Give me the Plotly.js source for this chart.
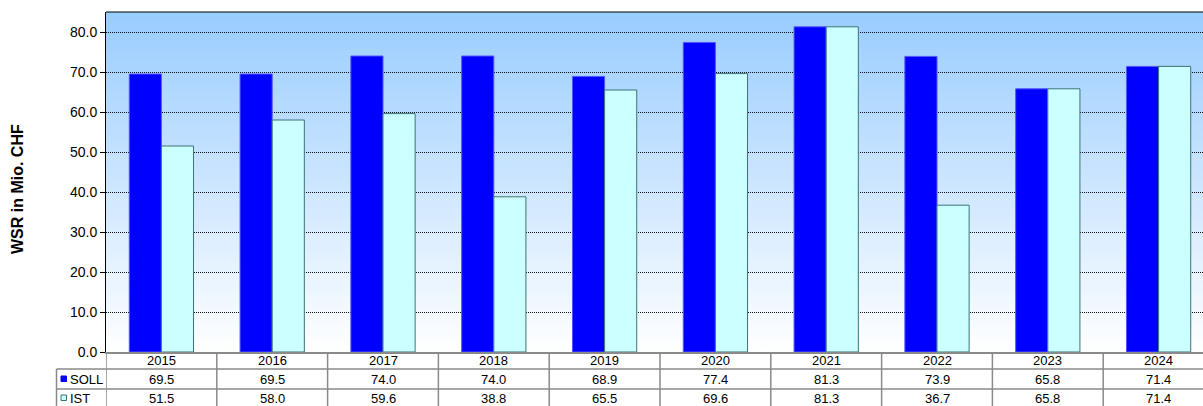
<!DOCTYPE html>
<html>
<head>
<meta charset="utf-8">
<script src="https://cdn.plot.ly/plotly-3.0.1.min.js"></script>
<style>
html,body{margin:0;padding:0;overflow:hidden;background:#fff;}
#chart{width:1215px;height:406px;}
</style>
</head>
<body>
<div id="chart"></div>
<script>
const years = ['2015','2016','2017','2018','2019','2020','2021','2022','2023','2024'];
const soll = [69.5, 69.5, 74.0, 74.0, 68.9, 77.4, 81.3, 73.9, 65.8, 71.4];
const ist  = [51.5, 58.0, 59.6, 38.8, 65.5, 69.6, 81.3, 36.7, 65.8, 71.4];
const seriesNames = ['SOLL', 'IST'];
const yTitle = 'WSR in Mio. CHF';

const W = 1215, H = 406;
const M = {l: 106, r: 1, t: 12, b: 54};
const PW = W - M.l - M.r, PH = H - M.t - M.b;
const px = v => (v - M.l) / PW;
const py = v => (M.t + PH - v) / PH;

const FONT = '"Liberation Sans", Arial, sans-serif';
const GRID = '#8a8a8a';

const gradSvg = '<svg xmlns="http://www.w3.org/2000/svg" width="10" height="100" preserveAspectRatio="none">' +
  '<defs><linearGradient id="g" x1="0" y1="0" x2="0" y2="1">' +
  '<stop offset="0" stop-color="#99CCFF"/><stop offset="1" stop-color="#FFFFFF"/>' +
  '</linearGradient></defs><rect width="10" height="100" fill="url(#g)"/></svg>';
const gradUrl = 'data:image/svg+xml;charset=utf-8,' + encodeURIComponent(gradSvg);

const traces = [
  {type: 'bar', name: seriesNames[0], x: years, y: soll,
   marker: {color: '#0000FF', line: {color: '#5555FF', width: 1}}, hoverinfo: 'x+y'},
  {type: 'bar', name: seriesNames[1], x: years, y: ist,
   marker: {color: '#CCFFFF', line: {color: '#3A7575', width: 1}}, hoverinfo: 'x+y'}
];

const shapes = [];
const annotations = [];
const yBottom = -0.25;
// top border of plot
shapes.push({type: 'line', xref: 'paper', yref: 'paper', x0: 0, x1: 1, y0: 1, y1: 1,
  line: {color: '#000', width: 1}});
// vertical table lines
for (let i = 0; i < years.length; i++) {
  shapes.push({type: 'line', xref: 'x', yref: 'paper', x0: i - 0.5, x1: i - 0.5, y0: 0, y1: yBottom,
    line: {color: GRID, width: 1.5}});
}
// left column vertical
shapes.push({type: 'line', xref: 'paper', yref: 'paper', x0: px(56.5), x1: px(56.5), y0: py(369), y1: yBottom,
  line: {color: GRID, width: 1.5}});
// horizontal table lines
[369, 389].forEach(yy => {
  shapes.push({type: 'line', xref: 'paper', yref: 'paper', x0: px(56.5), x1: 1.05, y0: py(yy), y1: py(yy),
    line: {color: GRID, width: 1.5}});
});
// legend keys
shapes.push({type: 'rect', xref: 'paper', yref: 'paper', x0: px(61), x1: px(66.5), y0: py(381.5), y1: py(376),
  fillcolor: '#0000FF', line: {color: '#0000FF', width: 1}});
shapes.push({type: 'rect', xref: 'paper', yref: 'paper', x0: px(61), x1: px(66.5), y0: py(400.5), y1: py(395),
  fillcolor: '#CCFFFF', line: {color: '#3A7575', width: 1}});

const rowY = [py(361), py(379), py(398.5)];
const TS = 13;
years.forEach((yr, i) => {
  annotations.push({xref: 'x', yref: 'paper', x: i, y: rowY[0], text: yr, showarrow: false,
    xanchor: 'center', yanchor: 'middle', font: {family: FONT, size: TS, color: '#000'}});
  annotations.push({xref: 'x', yref: 'paper', x: i, y: rowY[1], text: soll[i].toFixed(1), showarrow: false,
    xanchor: 'center', yanchor: 'middle', font: {family: FONT, size: TS, color: '#000'}});
  annotations.push({xref: 'x', yref: 'paper', x: i, y: rowY[2], text: ist[i].toFixed(1), showarrow: false,
    xanchor: 'center', yanchor: 'middle', font: {family: FONT, size: TS, color: '#000'}});
});
seriesNames.forEach((n, k) => {
  annotations.push({xref: 'paper', yref: 'paper', x: px(67.5), y: rowY[k + 1], text: n, showarrow: false,
    xanchor: 'left', yanchor: 'middle', font: {family: FONT, size: TS, color: '#000'}});
});
annotations.push({xref: 'paper', yref: 'paper', x: px(18), y: py(189), text: '<b>' + yTitle + '</b>',
  textangle: -90, showarrow: false, xanchor: 'center', yanchor: 'middle',
  font: {family: FONT, size: 16, color: '#000'}});

const layout = {
  width: W, height: H,
  margin: M,
  paper_bgcolor: '#FFFFFF',
  plot_bgcolor: 'rgba(0,0,0,0)',
  showlegend: false,
  barmode: 'group',
  bargap: 0.42,
  bargroupgap: 0,
  font: {family: FONT, color: '#000'},
  xaxis: {type: 'category', range: [-0.5, years.length - 0.5], showticklabels: false, ticks: '',
    showgrid: false, zeroline: false, showline: true, linecolor: GRID, linewidth: 1.5, fixedrange: true},
  yaxis: {range: [0, 85], tickvals: [0,10,20,30,40,50,60,70,80], tickformat: '.1f',
    ticks: 'outside', ticklen: 5, tickcolor: '#000', tickwidth: 1,
    showgrid: true, gridcolor: '#111', griddash: '1px,1px', gridwidth: 1,
    zeroline: false, showline: true, linecolor: '#000', linewidth: 1,
    tickfont: {family: FONT, size: 14, color: '#000'}, fixedrange: true},
  images: [{source: gradUrl, xref: 'paper', yref: 'paper', x: 0, y: 1, sizex: 1, sizey: 1,
    xanchor: 'left', yanchor: 'top', sizing: 'stretch', layer: 'below'}],
  shapes: shapes,
  annotations: annotations
};

Plotly.newPlot('chart', traces, layout, {displayModeBar: false, staticPlot: true});
</script>
</body>
</html>
